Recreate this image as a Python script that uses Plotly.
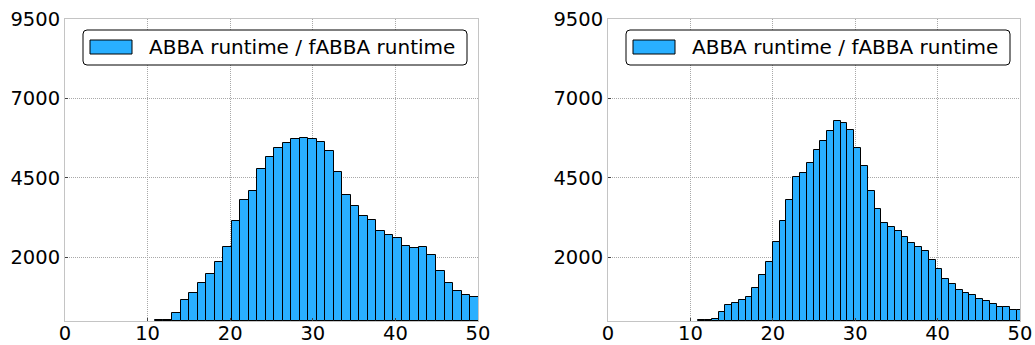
import plotly.graph_objects as go

# ---- data ----
left_bin_start = 10.89
left_bin_width = 1.031
left_counts = [24, 35, 255, 675, 875, 1190, 1474, 1841, 2325, 3154, 3816, 4089,
               4783, 5161, 5434, 5591, 5717, 5759, 5738, 5623, 5339, 4677, 3963,
               3606, 3291, 3176, 2829, 2703, 2598, 2345, 2293, 2314, 2083, 1568,
               1180, 959, 812, 749]

right_bin_start = 10.95
right_bin_width = 0.823
right_counts = [20, 25, 55, 287, 497, 570, 665, 759, 1033, 1432, 1862, 2493, 3154,
                3795, 4520, 4667, 4961, 5392, 5654, 5969, 6285, 6222, 6012, 5434,
                4877, 4089, 3522, 3081, 2944, 2829, 2629, 2440, 2335, 2199, 1925,
                1631, 1316, 1169, 970, 875, 812, 687, 623, 549, 434, 434, 339, 339]

legend_label = "ABBA runtime / fABBA runtime"
y_ticks = [2000, 4500, 7000, 9500]
x_ticks = [0, 10, 20, 30, 40, 50]

# ---- styling ----
W, H = 1035, 345
BAR_COLOR = "#29AFFF"
FONT = "DejaVu Sans"
GRID = "#a8a8a8"
FRAME = "#c4c4c4"

def centers(start, width, n):
    return [start + width * (i + 0.5) for i in range(n)]

fig = go.Figure()
fig.add_trace(go.Bar(x=centers(left_bin_start, left_bin_width, len(left_counts)),
                     y=left_counts, width=left_bin_width,
                     marker=dict(color=BAR_COLOR, line=dict(color="black", width=1)),
                     xaxis="x", yaxis="y", showlegend=False))
fig.add_trace(go.Bar(x=centers(right_bin_start, right_bin_width, len(right_counts)),
                     y=right_counts, width=right_bin_width,
                     marker=dict(color=BAR_COLOR, line=dict(color="black", width=1)),
                     xaxis="x2", yaxis="y2", showlegend=False))

def px(x):
    return x / W

def py(y):
    return 1 - y / H

# panel pixel boxes
panels = [(65, 478), (608, 1020)]
top, bottom = 19, 321

axcommon = dict(showgrid=True, gridcolor=GRID, griddash="1px,1px", gridwidth=1,
                showline=True, linecolor=FRAME, linewidth=1, mirror=True,
                zeroline=False, ticks="inside", ticklen=3, tickcolor="#444",
                automargin=False,
                tickfont=dict(family=FONT, size=19.5, color="black"))

fig.update_layout(
    width=W, height=H,
    margin=dict(l=0, r=0, t=0, b=0),
    paper_bgcolor="white", plot_bgcolor="white",
    bargap=0,
    xaxis=dict(domain=[px(panels[0][0]), px(panels[0][1])], range=[0, 50],
               tickvals=x_ticks, anchor="y", ticklabelstandoff=-5, **axcommon),
    yaxis=dict(domain=[py(bottom), py(top)], range=[0, 9500],
               tickvals=y_ticks, anchor="x", **axcommon),
    xaxis2=dict(domain=[px(panels[1][0]), px(panels[1][1])], range=[0, 50],
                tickvals=x_ticks, anchor="y2", ticklabelstandoff=-5, **axcommon),
    yaxis2=dict(domain=[py(bottom), py(top)], range=[0, 9500],
                tickvals=y_ticks, anchor="x2", **axcommon),
)

def rounded_rect(x0, y0, x1, y1, r=4):
    # pixel coords -> paper path with rounded corners
    rx, ry = r / W, r / H
    X0, X1 = px(x0), px(x1)
    Y0, Y1 = py(y0), py(y1)  # Y0 top (larger), Y1 bottom
    return (f"M {X0+rx},{Y0} L {X1-rx},{Y0} Q {X1},{Y0} {X1},{Y0-ry} "
            f"L {X1},{Y1+ry} Q {X1},{Y1} {X1-rx},{Y1} "
            f"L {X0+rx},{Y1} Q {X0},{Y1} {X0},{Y1+ry} "
            f"L {X0},{Y0-ry} Q {X0},{Y0} {X0+rx},{Y0} Z")

legends = [
    dict(box=(83, 30, 467, 65), sw=(90, 40, 132, 54), tx=147),
    dict(box=(626, 30, 1010, 65), sw=(633, 40, 675, 54), tx=690),
]
for lg in legends:
    bx0, by0, bx1, by1 = lg["box"]
    fig.add_shape(type="path", xref="paper", yref="paper",
                  path=rounded_rect(bx0, by0, bx1, by1),
                  line=dict(color="black", width=1), fillcolor="white", layer="above")
    sx0, sy0, sx1, sy1 = lg["sw"]
    fig.add_shape(type="rect", xref="paper", yref="paper",
                  x0=px(sx0), x1=px(sx1), y0=py(sy1), y1=py(sy0),
                  line=dict(color="black", width=1), fillcolor=BAR_COLOR, layer="above")
    fig.add_annotation(x=px(lg["tx"]), y=py((by0 + by1) / 2), xref="paper", yref="paper",
                       text=legend_label, showarrow=False, xanchor="left", yanchor="middle",
                       font=dict(family=FONT, size=20, color="black"))

fig.write_html("out.html")
